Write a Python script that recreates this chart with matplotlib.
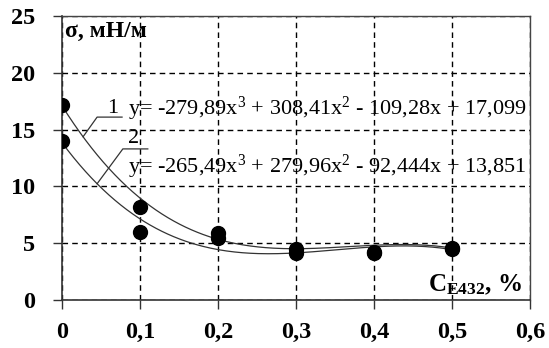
import numpy as np
import matplotlib
matplotlib.use("Agg")
import matplotlib.pyplot as plt

# data
conc = [0.0, 0.1, 0.2, 0.3, 0.4, 0.5]
sigma1 = [17.2, 8.2, 5.9, 4.5, 4.2, 4.6]
sigma2 = [14.0, 6.0, 5.45, 4.1, 4.1, 4.5]
coef1 = [-279.89, 308.41, -109.28, 17.099]
coef2 = [-265.49, 279.96, -92.444, 13.851]
eq1 = "y= -279,89x$^3$ + 308,41x$^2$ - 109,28x + 17,099"
eq2 = "y= -265,49x$^3$ + 279,96x$^2$ - 92,444x + 13,851"
xticks = [0, 0.1, 0.2, 0.3, 0.4, 0.5, 0.6]
xticklabels = ["0", "0,1", "0,2", "0,3", "0,4", "0,5", "0,6"]
yticks = [0, 5, 10, 15, 20, 25]

plt.rcParams['mathtext.fontset'] = 'custom'
plt.rcParams['mathtext.rm'] = 'Liberation Serif'
plt.rcParams['mathtext.it'] = 'Liberation Serif'
plt.rcParams['mathtext.bf'] = 'Liberation Serif:bold'

fig = plt.figure(figsize=(5.49, 3.48), dpi=100)
ax = fig.add_axes([62/549, 48/348, 468/549, 284/348])

ax.set_xlim(0, 0.6)
ax.set_ylim(0, 25)

xs = np.linspace(0, 0.5, 200)
ax.plot(xs, np.polyval(coef1, xs), color='#333333', lw=0.9, zorder=3)
ax.plot(xs, np.polyval(coef2, xs), color='#333333', lw=0.9, zorder=3)
ax.plot(conc, sigma1, 'o', color='black', ms=10, zorder=4)
ax.plot(conc, sigma2, 'o', color='black', ms=10, zorder=4)

ax.set_xticks(xticks)
ax.set_xticklabels(xticklabels)
ax.set_yticks(yticks)
for lab in ax.get_xticklabels() + ax.get_yticklabels():
    lab.set_fontfamily('Liberation Serif')
    lab.set_fontweight('bold')
    lab.set_fontsize(17.5)
ax.tick_params(direction='out', length=6.5, width=1, color='#333333')
ax.tick_params(axis='y', pad=12.5)
ax.tick_params(axis='x', pad=9)

ax.grid(True, color='black', linestyle=(0, (4, 3)), lw=1)
for s in ['left', 'bottom']:
    ax.spines[s].set_color('#333333')
    ax.spines[s].set_linewidth(1.2)
for s in ['top', 'right']:
    ax.spines[s].set_color('#444444')
    ax.spines[s].set_linewidth(1)

ax.text(0.004, 23.6, "σ, мН/м", fontfamily='Liberation Serif', fontweight='bold',
        fontsize=17, ha='left', va='center')
ax.text(0.59, 1.3, "C$_{\\mathbf{E432}}$, %", fontfamily='Liberation Serif', fontweight='bold',
        fontsize=18, ha='right', va='center')

ax.text(0.085, 16.8, eq1, fontfamily='Liberation Serif', fontsize=16, ha='left', va='center', zorder=5)
ax.text(0.085, 11.7, eq2, fontfamily='Liberation Serif', fontsize=16, ha='left', va='center', zorder=5)

# labels 1 and 2 with leader lines
ax.text(0.065, 16.9, "1", fontfamily='Liberation Serif', fontsize=16, ha='center', va='center')
ax.text(0.092, 14.2, "2", fontfamily='Liberation Serif', fontsize=16, ha='center', va='center')
x1 = 0.027
ax.plot([x1, 0.045, 0.077], [np.polyval(coef1, x1), 16.1, 16.1], color='#333333', lw=0.9)
x2 = 0.045
ax.plot([x2, 0.078, 0.11], [np.polyval(coef2, x2), 13.3, 13.3], color='#333333', lw=0.9)

fig.savefig("out.png", dpi=100)
